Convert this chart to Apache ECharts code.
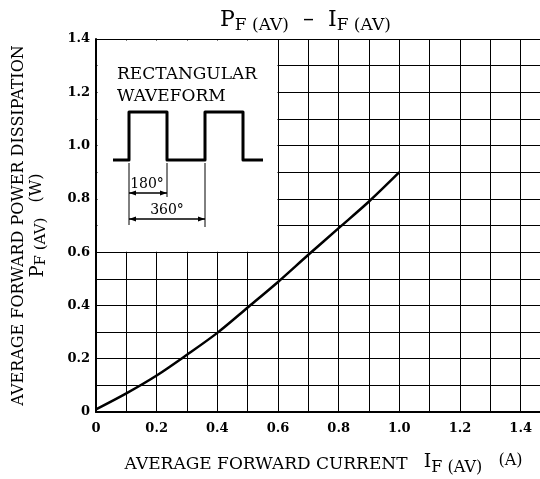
<!DOCTYPE html>
<html>
<head>
<meta charset="utf-8">
<script src="https://cdn.jsdelivr.net/npm/echarts@6/dist/echarts.min.js"></script>
<style>
  html, body { margin: 0; padding: 0; background: #fff; }
  #chart { width: 540px; height: 479px; }
</style>
</head>
<body>
<div id="chart"></div>
<script>
// forward current (A) vs average power dissipation (W)
const currentA = [0, 0.1, 0.2, 0.3, 0.4, 0.5, 0.6, 0.7, 0.8, 0.9, 1.0];
const powerW = [0.01, 0.07, 0.137, 0.215, 0.297, 0.392, 0.488, 0.59, 0.69, 0.79, 0.9];
const xLabels = ['0', '0.2', '0.4', '0.6', '0.8', '1.0', '1.2', '1.4'];
const yLabels = ['0', '0.2', '0.4', '0.6', '0.8', '1.0', '1.2', '1.4'];

const serif = 'DejaVu Serif';
const ink = '#000';

let chart = echarts.init(document.getElementById('chart'));

const tickFmt = labels => v => {
  const k = Math.round(v * 10);
  return k % 2 === 0 && labels[k / 2] !== undefined ? labels[k / 2] : '';
};

// big letter + lowered subscript, shared by title and axis names
const richParts = (bigSize, subSize, drop) => ({
  p: { fontFamily: serif, fontSize: bigSize, fontWeight: 'normal', color: ink, verticalAlign: 'top', lineHeight: bigSize + 2 },
  s: { fontFamily: serif, fontSize: subSize, fontWeight: 'normal', color: ink, verticalAlign: 'bottom', padding: [drop, 0, 0, 0] },
  n: { fontFamily: serif, fontSize: 16, fontWeight: 'normal', color: ink, verticalAlign: 'top', lineHeight: bigSize + 2 }
});

let option = {
  animation: false,
  backgroundColor: '#fff',
  title: {
    text: '{p|P}{s|F (AV)}{p|  –  I}{s|F (AV)}',
    left: 215,
    top: 4,
    textStyle: { fontWeight: 'normal', rich: richParts(22, 17, 8) }
  },
  grid: { left: 96, right: -11, top: 39, bottom: 67, outerBoundsMode: 'none' },
  xAxis: {
    type: 'value',
    min: 0,
    max: 1.5,
    interval: 0.1,
    name: 'AVERAGE FORWARD CURRENT   {p|I}{s|F (AV)}   {n|(A)}',
    nameLocation: 'middle',
    nameGap: 41,
    nameTextStyle: { fontFamily: serif, fontSize: 17, color: ink, rich: richParts(19, 16, 7) },
    axisLine: { show: true, onZero: false, lineStyle: { color: ink, width: 2 } },
    axisTick: { show: false },
    axisLabel: { formatter: tickFmt(xLabels), fontFamily: serif, fontSize: 13, fontWeight: 'bold', color: ink, margin: 10 },
    splitLine: { show: true, lineStyle: { color: ink, width: 1 } }
  },
  yAxis: {
    type: 'value',
    min: 0,
    max: 1.4,
    interval: 0.1,
    name: 'AVERAGE FORWARD POWER DISSIPATION\n{p|P}{s|F (AV)}   {n|(W)}',
    nameLocation: 'middle',
    nameRotate: 90,
    nameGap: 47,
    nameTextStyle: { fontFamily: serif, fontSize: 16, color: ink, lineHeight: 20, rich: richParts(18, 15, 7) },
    axisLine: { show: true, lineStyle: { color: ink, width: 2 } },
    axisTick: { show: false },
    axisLabel: { formatter: tickFmt(yLabels), fontFamily: serif, fontSize: 13, fontWeight: 'bold', color: ink, margin: 6 },
    splitLine: { show: true, lineStyle: { color: ink, width: 1 } }
  },
  series: [
    {
      type: 'line',
      data: currentA.map((x, i) => [x, powerW[i]]),
      smooth: 0.3,
      symbol: 'none',
      lineStyle: { color: ink, width: 2.5 },
      z: 5
    }
  ]
};
chart.setOption(option);

// inset: blank the grid in the upper-left box and draw the waveform sketch
const tl = chart.convertToPixel({ xAxisIndex: 0, yAxisIndex: 0 }, [0, 1.4]);
const br = chart.convertToPixel({ xAxisIndex: 0, yAxisIndex: 0 }, [0.6, 0.6]);
const ox = tl[0], oy = tl[1];
const thin = { stroke: ink, lineWidth: 1 };
const line = (x1, y1, x2, y2, style) => ({
  type: 'line', z: 101,
  shape: { x1: ox + x1, y1: oy + y1, x2: ox + x2, y2: oy + y2 },
  style: style || thin
});
const arrowHead = (x, y, dir) => ({
  type: 'polygon', z: 101,
  shape: { points: [[ox + x, oy + y], [ox + x - dir * 7, oy + y - 2.5], [ox + x - dir * 7, oy + y + 2.5]] },
  style: { fill: ink }
});
const label = (text, x, y, size, align) => ({
  type: 'text', z: 102,
  x: ox + x, y: oy + y,
  style: { text: text, fill: ink, font: size + 'px "' + serif + '"', textAlign: align, textVerticalAlign: 'middle' }
});

chart.setOption({
  graphic: [
    {
      type: 'rect', z: 100,
      shape: { x: ox + 1.5, y: oy + 1.5, width: br[0] - ox - 2, height: br[1] - oy - 2 },
      style: { fill: '#fff' }
    },
    {
      type: 'polyline', z: 101,
      shape: { points: [[17, 121], [33, 121], [33, 73], [71, 73], [71, 121], [109, 121], [109, 73], [147, 73], [147, 121], [167, 121]].map(p => [ox + p[0], oy + p[1]]) },
      style: { stroke: ink, lineWidth: 3, fill: null, lineJoin: 'round' }
    },
    line(33, 124, 33, 186),
    line(71, 124, 71, 158),
    line(109, 124, 109, 188),
    line(33, 154, 71, 154, { stroke: ink, lineWidth: 1.5 }),
    arrowHead(33, 154, -1),
    arrowHead(71, 154, 1),
    line(33, 180, 109, 180, { stroke: ink, lineWidth: 1.5 }),
    arrowHead(33, 180, -1),
    arrowHead(109, 180, 1),
    label('180°', 51, 145, 14, 'center'),
    label('360°', 71, 171, 14, 'center'),
    label('RECTANGULAR', 21, 36, 17, 'left'),
    label('WAVEFORM', 21, 58, 17, 'left')
  ]
});
</script>
</body>
</html>
